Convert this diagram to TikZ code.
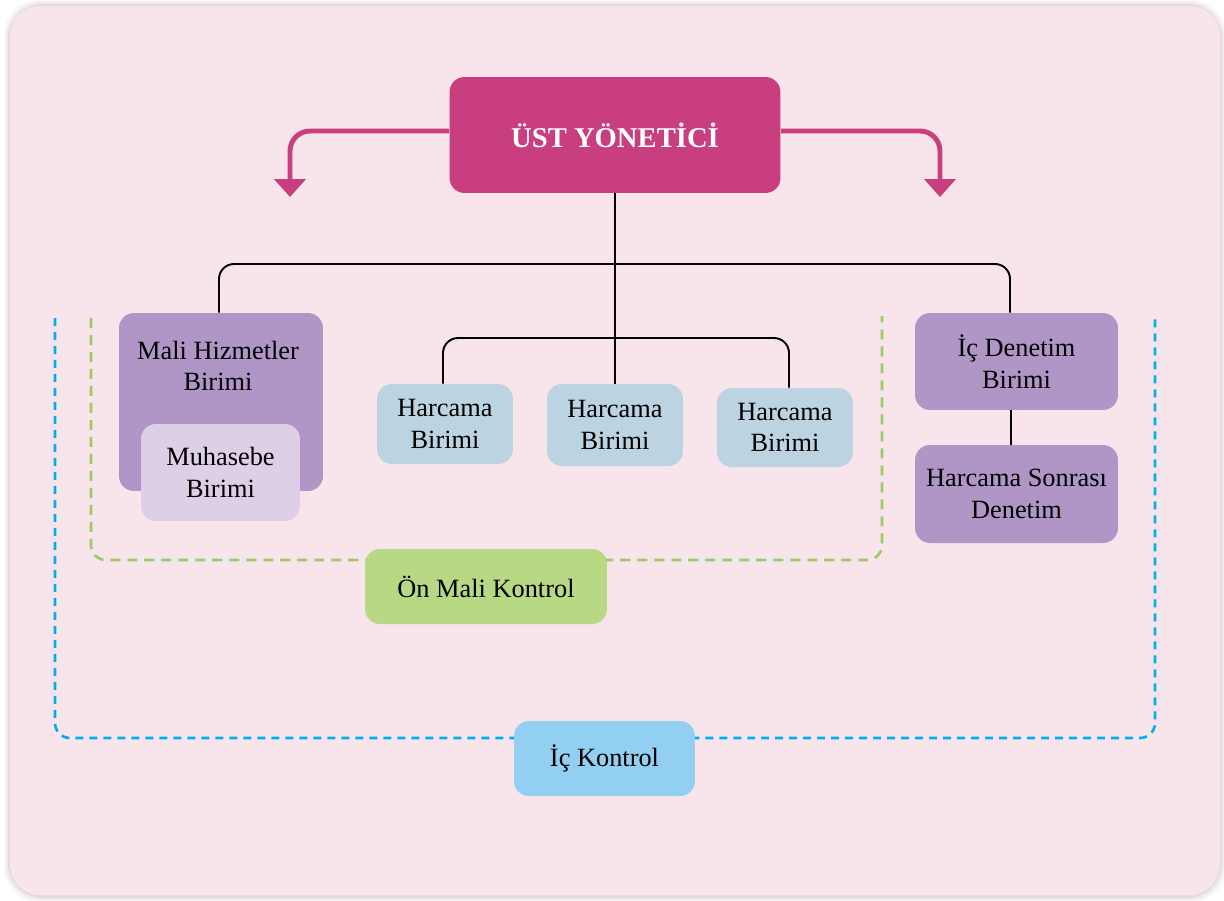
\documentclass[tikz,border=0pt]{standalone}
\usepackage{fontspec}
\setmainfont{Liberation Serif}
\usetikzlibrary{arrows.meta}

\definecolor{framepink}{HTML}{F8E5EC}
\definecolor{ustpink}{HTML}{C83E7F}
\definecolor{unitpurple}{HTML}{B096C6}
\definecolor{muhlilac}{HTML}{DCCFE6}
\definecolor{harcblue}{HTML}{BCD4E2}
\definecolor{onmaligreen}{HTML}{B8D884}
\definecolor{greendash}{HTML}{9BCB62}
\definecolor{icblue}{HTML}{92CFF0}
\definecolor{bluedash}{HTML}{00AEEF}
\definecolor{shadowgray}{HTML}{B8A8B6}

\begin{document}
\begin{tikzpicture}[x=0.02cm,y=-0.02cm,
  unitbox/.style={rounded corners=0.3cm,inner sep=0pt,align=center,
    font=\fontsize{15}{18}\selectfont},
  tree/.style={line width=1.1pt,rounded corners=0.3cm},
  pinkarrow/.style={draw=ustpink,line width=2.8pt,rounded corners=0.4cm,
    -{Triangle[width=0.62cm,length=0.36cm]}},
  ctrldash/.style={line width=1.5pt,rounded corners=0.3cm}]

\useasboundingbox (0,0) rectangle (1224,900);

% Draw frame with soft shadow
\foreach \s/\o in {6/0.10,4/0.15,2/0.25} {
  \fill[shadowgray,opacity=\o,rounded corners=0.7cm]
    (10-\s,6-\s) rectangle (1220+\s,896+\s);
}
\fill[framepink,rounded corners=0.6cm] (10,6) rectangle (1220,895);

% Add control frames (dashed)
\draw[ctrldash,greendash,dash pattern=on 0.2cm off 0.14cm]
  (91,318) -- (91,560) -- (882,560) -- (882,316);
\draw[ctrldash,bluedash,dash pattern=on 0.16cm off 0.12cm]
  (55,318) -- (55,738) -- (1155,738) -- (1155,318);

% Define top manager box
\node[unitbox,fill=ustpink,text=white,minimum width=6.62cm,minimum height=2.32cm,
  font=\bfseries\fontsize{16.3}{19}\selectfont] (ust) at (615,135) {ÜST YÖNETİCİ};

% Define unit boxes
\node[unitbox,fill=unitpurple,minimum width=4.08cm,minimum height=3.56cm] (mali) at (221,402) {};
\node[align=center,inner sep=0pt,font=\fontsize{15}{17.6}\selectfont] (malitxt) at (218,366) {Mali Hizmetler\\Birimi};
\node[unitbox,fill=muhlilac,minimum width=3.18cm,minimum height=1.94cm] (muhasebe) at (220.5,472.5) {Muhasebe\\Birimi};

\node[unitbox,fill=harcblue,minimum width=2.72cm,minimum height=1.6cm] (harc1) at (445,424) {Harcama\\Birimi};
\node[unitbox,fill=harcblue,minimum width=2.72cm,minimum height=1.64cm] (harc2) at (615,425) {Harcama\\Birimi};
\node[unitbox,fill=harcblue,minimum width=2.72cm,minimum height=1.58cm] (harc3) at (785,427.5) {Harcama\\Birimi};

\node[unitbox,fill=unitpurple,minimum width=4.06cm,minimum height=1.94cm] (icden) at (1016.5,361.5) {İç Denetim\\Birimi};
\node[unitbox,fill=unitpurple,minimum width=4.06cm,minimum height=1.96cm] (sonra) at (1016.5,494) {Harcama Sonrası\\Denetim};

% Add control labels
\node[unitbox,fill=onmaligreen,minimum width=4.84cm,minimum height=1.5cm] (onmali) at (486,586.5) {Ön Mali Kontrol};
\node[unitbox,fill=icblue,minimum width=3.62cm,minimum height=1.5cm] (ickontrol) at (604.5,758.5) {İç Kontrol};

% Draw tree connectors
\draw[tree] (ust.south) -- (harc2.north);
\draw[tree] ([xshift=-0.04cm]mali.north) |- ([xshift=-0.13cm]icden.north |- 0,264) -- ([xshift=-0.13cm]icden.north);
\draw[tree] ([xshift=-0.04cm]harc1.north) |- ([xshift=0.08cm]harc3.north |- 0,338) -- ([xshift=0.08cm]harc3.north);
\draw[tree] ([xshift=-0.11cm]icden.south) -- ([xshift=-0.11cm]sonra.north);

% Add pink arrows
\coordinate (leftend) at (290,197);
\coordinate (rightend) at (940,197);
\draw[pinkarrow] (ust.west |- 0,131) -| (leftend);
\draw[pinkarrow] (ust.east |- 0,131) -| (rightend);

\end{tikzpicture}
\end{document}
